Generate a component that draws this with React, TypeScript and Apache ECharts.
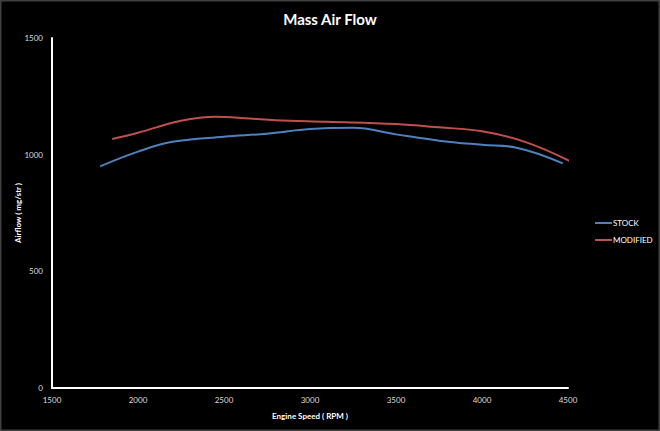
import React, { useEffect, useRef } from "react";
import * as echarts from "echarts";

const stockData: [number, number][] = [
  [1780, 950], [2000, 1013], [2200, 1055], [2500, 1077], [2750, 1090],
  [3000, 1110], [3250, 1115], [3500, 1087], [3750, 1060], [4000, 1042],
  [4200, 1030], [4470, 963],
];
const modifiedData: [number, number][] = [
  [1850, 1067], [2000, 1094], [2250, 1145], [2450, 1163], [2650, 1155],
  [2800, 1148], [3100, 1141], [3500, 1131], [3750, 1117], [4000, 1100],
  [4250, 1055], [4510, 973],
];
const seriesNames = ["STOCK", "MODIFIED"];
const titleText = "Mass Air Flow";
const xName = "Engine Speed ( RPM )";
const yName = "Airflow ( mg/str )";

const FONT = "Lato, 'Open Sans', sans-serif";

export default function App() {
  const ref = useRef<HTMLDivElement>(null);
  useEffect(() => {
    document.body.style.margin = "0";
    const chart = echarts.init(ref.current!, null, { renderer: "svg" });
    chart.setOption({
      animation: false,
      backgroundColor: "#000",
      textStyle: { fontFamily: FONT },
      title: {
        text: titleText,
        left: "center",
        top: 6,
        textStyle: { color: "#fff", fontSize: 15, fontWeight: "bold", fontFamily: FONT },
      },
      legend: {
        orient: "vertical",
        left: 590,
        top: 214,
        itemWidth: 17,
        itemHeight: 2,
        itemGap: 9,
        icon: "rect",
        textStyle: { color: "#fff", fontSize: 8, fontFamily: FONT, padding: [0, 0, 0, -4] },
        data: seriesNames,
      },
      grid: { left: 52, right: 92, top: 38, bottom: 43, outerBoundsMode: "none" },
      xAxis: {
        type: "value",
        min: 1500,
        max: 4500,
        interval: 500,
        name: xName,
        nameLocation: "middle",
        nameGap: 24,
        nameMoveOverlap: false,
        nameTextStyle: { color: "#fff", fontSize: 8, fontWeight: "bold", fontFamily: FONT },
        axisLine: { lineStyle: { color: "#fff", width: 2 } },
        axisTick: { show: false },
        splitLine: { show: false },
        axisLabel: { color: "#ddd", fontSize: 8, margin: 8, fontFamily: FONT, formatter: (v: number) => String(v) },
      },
      yAxis: {
        type: "value",
        min: 0,
        max: 1500,
        interval: 500,
        name: yName,
        nameLocation: "middle",
        nameGap: 30,
        nameMoveOverlap: false,
        nameTextStyle: { color: "#fff", fontSize: 8, fontWeight: "bold", fontFamily: FONT },
        axisLine: { show: true, lineStyle: { color: "#fff", width: 2 } },
        axisTick: { show: false },
        splitLine: { show: false },
        axisLabel: { color: "#ddd", fontSize: 8, margin: 9, fontFamily: FONT, formatter: (v: number) => String(v) },
      },
      series: [
        {
          name: seriesNames[0],
          type: "line",
          data: stockData,
          smooth: 0.4,
          showSymbol: false,
          lineStyle: { color: "#4f81bd", width: 2 },
          itemStyle: { color: "#4f81bd" },
        },
        {
          name: seriesNames[1],
          type: "line",
          data: modifiedData,
          smooth: 0.4,
          showSymbol: false,
          lineStyle: { color: "#c0504d", width: 2 },
          itemStyle: { color: "#c0504d" },
        },
      ],
      graphic: [
        {
          type: "rect",
          shape: { x: 0.5, y: 0.5, width: 659, height: 430 },
          style: { fill: "none", stroke: "#404040", lineWidth: 2 },
          silent: true,
        },
      ],
    });
    return () => chart.dispose();
  }, []);
  return <div ref={ref} style={{ width: 660, height: 431 }} />;
}
